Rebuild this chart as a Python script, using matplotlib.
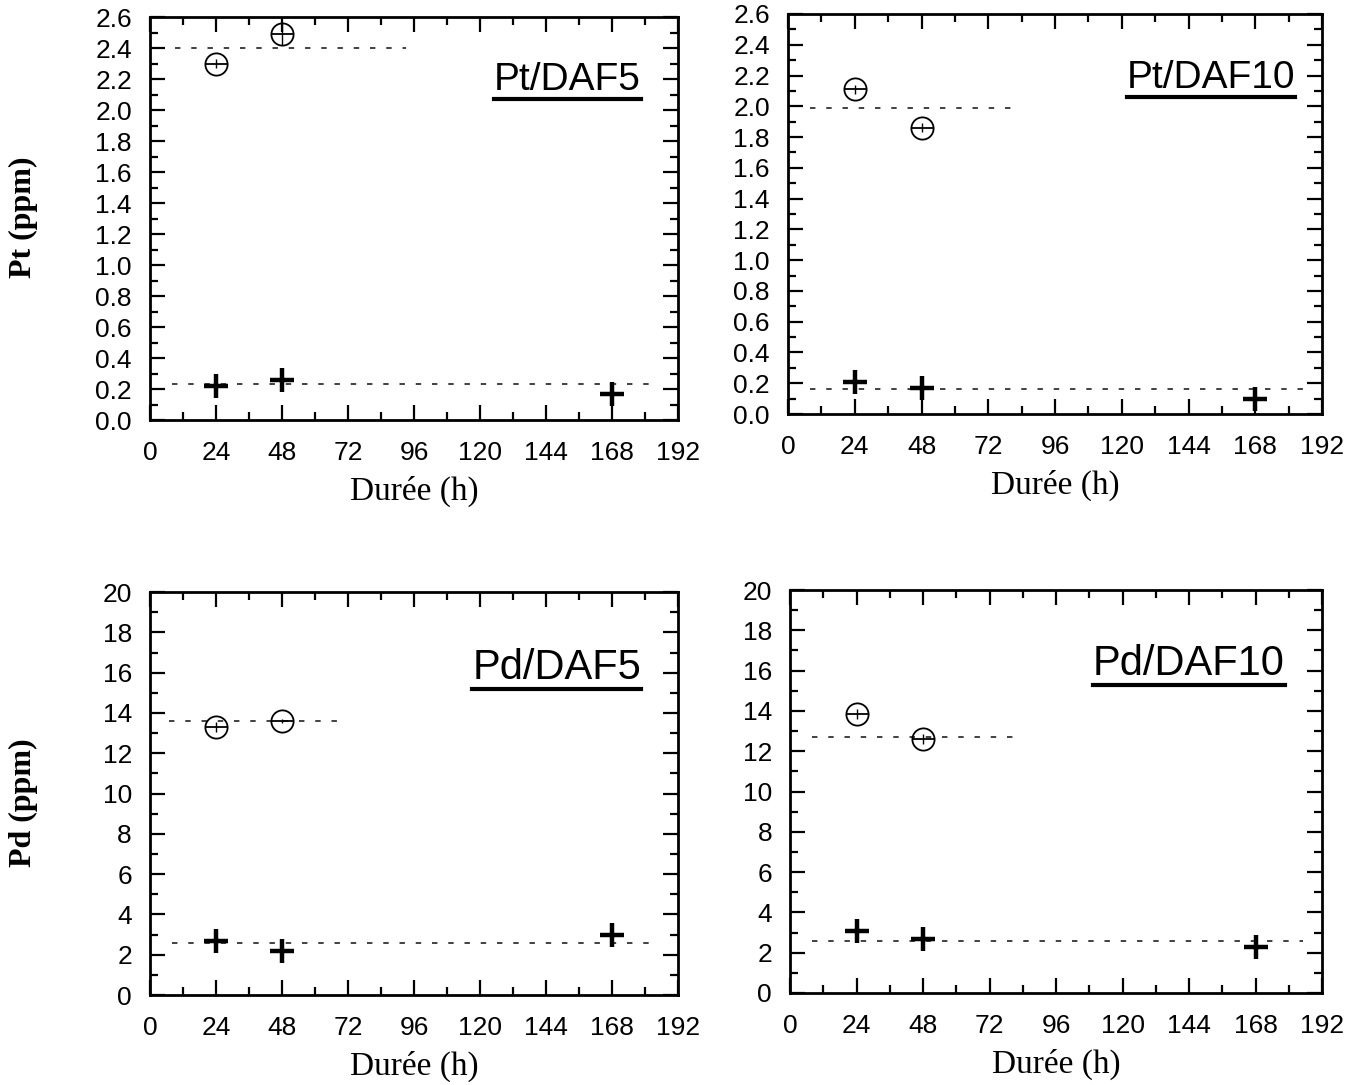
import numpy as np
import matplotlib.pyplot as plt
from matplotlib.ticker import MultipleLocator
from matplotlib.lines import Line2D

plt.rcParams["font.family"] = ["Liberation Sans", "DejaVu Sans"]

HOURS_CIRC = [24, 48]
HOURS_CROSS = [24, 48, 168]

# Pt panels (ppm)
PT_DAF5_CIRC = [2.30, 2.49]
PT_DAF5_CIRC_ERR = [0.03, 0.07]
PT_DAF5_CROSS = [0.22, 0.26, 0.17]
PT_DAF5_CROSS_ERR = [0.07, 0.06, 0.06]
PT_DAF5_MEAN_CIRC = 2.40
PT_DAF5_MEAN_CROSS = 0.23

PT_DAF10_CIRC = [2.11, 1.86]
PT_DAF10_CIRC_ERR = [0.03, 0.03]
PT_DAF10_CROSS = [0.21, 0.17, 0.10]
PT_DAF10_CROSS_ERR = [0.06, 0.06, 0.05]
PT_DAF10_MEAN_CIRC = 1.99
PT_DAF10_MEAN_CROSS = 0.16

# Pd panels (ppm)
PD_DAF5_CIRC = [13.3, 13.6]
PD_DAF5_CIRC_ERR = [0.25, 0.1]
PD_DAF5_CROSS = [2.7, 2.2, 3.0]
PD_DAF5_CROSS_ERR = [0.5, 0.5, 0.4]
PD_DAF5_MEAN_CIRC = 13.6
PD_DAF5_MEAN_CROSS = 2.6

PD_DAF10_CIRC = [13.85, 12.6]
PD_DAF10_CIRC_ERR = [0.25, 0.25]
PD_DAF10_CROSS = [3.1, 2.7, 2.3]
PD_DAF10_CROSS_ERR = [0.5, 0.5, 0.5]
PD_DAF10_MEAN_CIRC = 12.7
PD_DAF10_MEAN_CROSS = 2.58

X_TICKS = [0, 24, 48, 72, 96, 120, 144, 168, 192]


def draw_panel(ax, title, circ, circ_err, cross, cross_err, mean_circ, mean_cross,
               circ_span, ymax, ymajor, yminor, yfmt, title_pos, title_fs):
    # mean lines
    ax.hlines(mean_circ, circ_span[0], circ_span[1], colors="#333333",
              linestyles=(0, (3, 6)), linewidth=1.3)
    ax.hlines(mean_cross, 8, 185, colors="#333333",
              linestyles=(0, (3, 6)), linewidth=1.3)

    # circles with a bar
    ax.errorbar(HOURS_CIRC, circ, yerr=circ_err, fmt="none", ecolor="black",
                elinewidth=1.0, zorder=3)
    ax.plot(HOURS_CIRC, circ, "o", ms=16, mfc="none", mec="black", mew=1.3, zorder=4)
    ax.plot(HOURS_CIRC, circ, "_", ms=16, mec="black", mew=1.3, zorder=4)

    # crosses
    ax.errorbar(HOURS_CROSS, cross, yerr=cross_err, fmt="none", ecolor="black",
                elinewidth=2.0, zorder=3)
    ax.plot(HOURS_CROSS, cross, "+", ms=17, mec="black", mew=3.2, zorder=4)

    ax.set_xlim(0, 192)
    ax.set_ylim(0, ymax)
    ax.set_xticks(X_TICKS)
    ax.xaxis.set_minor_locator(MultipleLocator(12))
    ax.yaxis.set_major_locator(MultipleLocator(ymajor))
    ax.yaxis.set_minor_locator(MultipleLocator(yminor))
    ax.yaxis.set_major_formatter(plt.FormatStrFormatter(yfmt))
    ax.tick_params(which="both", direction="in", top=True, right=True,
                   labelsize=19, width=1.6)
    ax.tick_params(which="major", length=11, pad=13)
    ax.tick_params(which="minor", length=6)
    ax.tick_params(axis="x", which="major", pad=15)
    for sp in ax.spines.values():
        sp.set_linewidth(2.0)

    ax.set_xlabel("Durée (h)", family="Liberation Serif", fontsize=24, labelpad=8)

    ax.text(title_pos[0], title_pos[1], title, transform=ax.transAxes,
            ha="right", va="baseline", fontsize=title_fs)


fig = plt.figure(figsize=(13.61, 10.85), dpi=100)

ax1 = fig.add_axes([0.1102, 0.6129, 0.388, 0.3714])
ax2 = fig.add_axes([0.5790, 0.6184, 0.3924, 0.3687])
ax3 = fig.add_axes([0.1102, 0.0829, 0.388, 0.3714])
ax4 = fig.add_axes([0.5805, 0.0848, 0.3909, 0.3714])

draw_panel(ax1, "Pt/DAF5", PT_DAF5_CIRC, PT_DAF5_CIRC_ERR, PT_DAF5_CROSS, PT_DAF5_CROSS_ERR,
           PT_DAF5_MEAN_CIRC, PT_DAF5_MEAN_CROSS, (9, 93), 2.6, 0.2, 0.1, "%.1f",
           (0.93, 0.82), 28)
draw_panel(ax2, "Pt/DAF10", PT_DAF10_CIRC, PT_DAF10_CIRC_ERR, PT_DAF10_CROSS, PT_DAF10_CROSS_ERR,
           PT_DAF10_MEAN_CIRC, PT_DAF10_MEAN_CROSS, (8, 83), 2.6, 0.2, 0.1, "%.1f",
           (0.95, 0.815), 28)
draw_panel(ax3, "Pd/DAF5", PD_DAF5_CIRC, PD_DAF5_CIRC_ERR, PD_DAF5_CROSS, PD_DAF5_CROSS_ERR,
           PD_DAF5_MEAN_CIRC, PD_DAF5_MEAN_CROSS, (7, 71), 20, 2, 1, "%d",
           (0.93, 0.785), 30)
draw_panel(ax4, "Pd/DAF10", PD_DAF10_CIRC, PD_DAF10_CIRC_ERR, PD_DAF10_CROSS, PD_DAF10_CROSS_ERR,
           PD_DAF10_MEAN_CIRC, PD_DAF10_MEAN_CROSS, (8, 83), 20, 2, 1, "%d",
           (0.93, 0.79), 30)

fig.text(0.017, 0.80, "Pt (ppm)", rotation=90, ha="center", va="center",
         family="Liberation Serif", fontweight="bold", fontsize=23)
fig.text(0.017, 0.26, "Pd (ppm)", rotation=90, ha="center", va="center",
         family="Liberation Serif", fontweight="bold", fontsize=23)

# underline the panel titles
fig.canvas.draw()
renderer = fig.canvas.get_renderer()
inv = fig.transFigure.inverted()
for ax in (ax1, ax2, ax3, ax4):
    t = ax.texts[0]
    bb = t.get_window_extent(renderer)
    (x0, y0), (x1, _) = inv.transform([(bb.x0, bb.y0), (bb.x1, bb.y1)])
    y_line = y0 - 1.0 / 1085
    fig.add_artist(Line2D([x0, x1], [y_line, y_line], transform=fig.transFigure,
                          color="black", linewidth=3.0))

fig.savefig("out.png", dpi=100)
